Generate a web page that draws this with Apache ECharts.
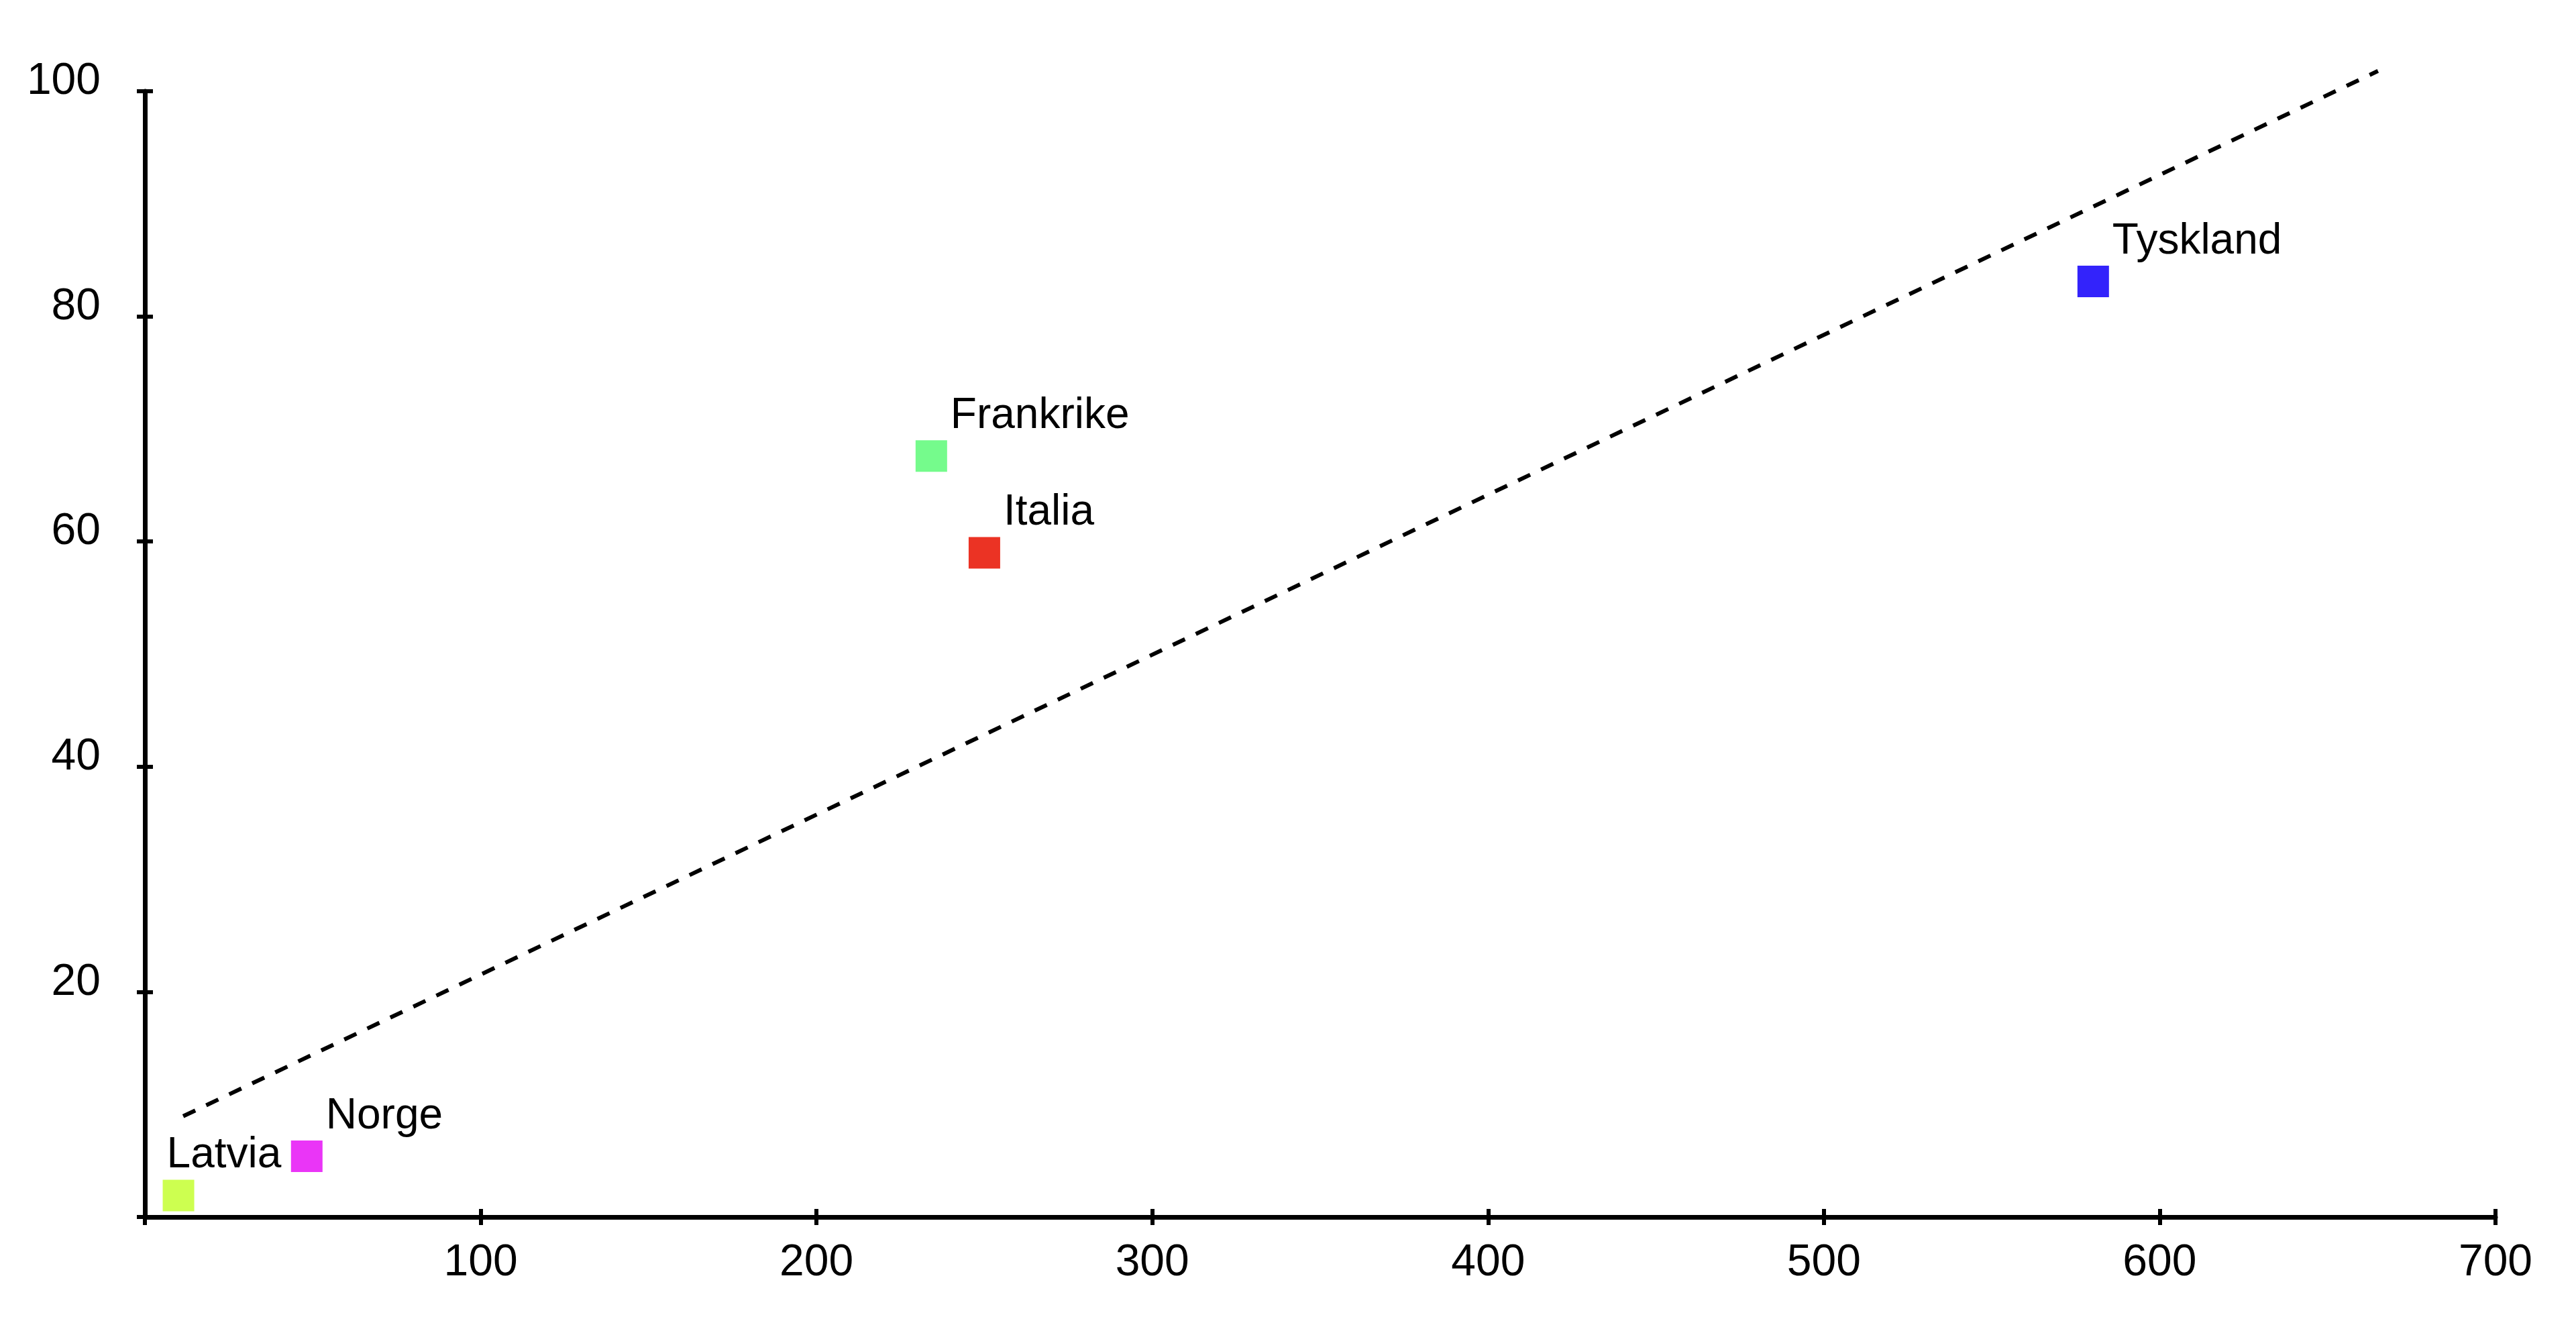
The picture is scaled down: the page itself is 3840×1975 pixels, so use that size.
<!DOCTYPE html>
<html>
<head>
<meta charset="utf-8">
<style>
html,body{margin:0;padding:0;background:#fff;}
#chart{width:3840px;height:1975px;}
</style>
<script src="https://cdn.jsdelivr.net/npm/echarts@6/dist/echarts.min.js"></script>
</head>
<body>
<div id="chart"></div>
<script>
const countries = ["Latvia", "Norge", "Frankrike", "Italia", "Tyskland"];
const xValues = [10, 48.2, 234.2, 250, 580.2];
const yValues = [1.9, 5.4, 67.6, 59.0, 83.1];
const palette = ["#cdff50", "#ea35f7", "#75fb8c", "#eb3324", "#3323fb"];
const trendX = [11.4, 665];
const trendY = [8.95, 101.8];
const xTicks = [0, 100, 200, 300, 400, 500, 600, 700];
const yTicks = [0, 20, 40, 60, 80, 100];

const FONT = "'Liberation Sans', Arial, Helvetica, sans-serif";
const chart = echarts.init(document.getElementById('chart'), null, {renderer: 'canvas'});

const SYM = 47;
const points = countries.map((c, i) => ({
  name: c,
  value: [xValues[i], yValues[i]],
  itemStyle: {color: palette[i], opacity: 1},
  label: {
    position: c === 'Latvia' ? [6, -4] : [SYM + 5, -4]
  }
}));

const axisCommonX = {
  type: 'value', min: xTicks[0], max: xTicks[xTicks.length - 1], interval: 100,
  position: 'bottom', splitLine: {show: false}
};
const axisCommonY = {
  type: 'value', min: yTicks[0], max: yTicks[yTicks.length - 1], interval: 20,
  position: 'left', splitLine: {show: false}
};

chart.setOption({
  animation: false,
  backgroundColor: '#ffffff',
  grid: {left: 216, right: 120, top: 136, bottom: 161, containLabel: false},
  xAxis: [
    Object.assign({}, axisCommonX, {
      axisLine: {show: true, onZero: false, lineStyle: {color: '#000', width: 7}},
      axisTick: {show: true, inside: false, length: 12, lineStyle: {color: '#000', width: 6}},
      axisLabel: {
        show: true, color: '#000', fontSize: 66, fontFamily: FONT, margin: 36,
        formatter: v => v === 0 ? '' : String(v)
      }
    }),
    Object.assign({}, axisCommonX, {
      axisLine: {show: false},
      axisTick: {show: true, inside: true, length: 12, lineStyle: {color: '#000', width: 6}},
      axisLabel: {show: false}
    })
  ],
  yAxis: [
    Object.assign({}, axisCommonY, {
      axisLine: {show: true, onZero: false, lineStyle: {color: '#000', width: 7}},
      axisTick: {show: true, inside: false, length: 12, lineStyle: {color: '#000', width: 6}},
      axisLabel: {
        show: true, color: '#000', fontSize: 66, fontFamily: FONT, margin: 66,
        verticalAlign: 'bottom', lineHeight: 28,
        formatter: v => v === 0 ? '' : String(v)
      }
    }),
    Object.assign({}, axisCommonY, {
      axisLine: {show: false},
      axisTick: {show: true, inside: true, length: 12, lineStyle: {color: '#000', width: 6}},
      axisLabel: {show: false}
    })
  ],
  series: [
    {
      type: 'line',
      xAxisIndex: 0, yAxisIndex: 0,
      data: trendX.map((x, i) => [x, trendY[i]]),
      showSymbol: false,
      symbol: 'none',
      clip: false,
      lineStyle: {color: '#000', width: 6, type: [20, 18], cap: 'butt'},
      silent: true,
      z: 1
    },
    {
      type: 'scatter',
      xAxisIndex: 0, yAxisIndex: 0,
      symbol: 'rect',
      symbolSize: SYM,
      data: points,
      label: {
        show: true,
        formatter: '{b}',
        color: '#000',
        fontSize: 64,
        fontFamily: FONT,
        align: 'left',
        verticalAlign: 'bottom'
      },
      labelLayout: {hideOverlap: false},
      z: 3
    }
  ]
});
</script>
</body>
</html>
